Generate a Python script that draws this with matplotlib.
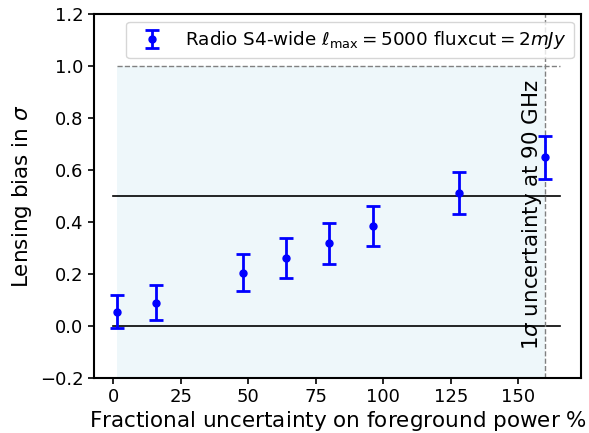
import matplotlib
matplotlib.use("Agg")
import matplotlib.pyplot as plt
import numpy as np

# fractional uncertainty on foreground power (%) and the lensing bias
frac_unc = [1.5, 16, 48, 64, 80, 96, 128, 160]
bias = [0.055, 0.089, 0.205, 0.262, 0.319, 0.383, 0.511, 0.649]
bias_err = [0.065, 0.067, 0.07, 0.076, 0.079, 0.077, 0.08, 0.084]

sigma_90 = 160  # 1 sigma uncertainty at 90 GHz

fig = plt.figure(figsize=(5.89, 4.33), dpi=100)
ax = fig.add_axes([0.1596, 0.1277, 0.827, 0.839])

ax.fill_between([frac_unc[0], sigma_90], -0.2, 1.0, color="lightblue", alpha=0.2, lw=0)
ax.plot([0, 165.5], [0, 0], color="k", lw=1.2)
ax.plot([0, 165.5], [0.5, 0.5], color="k", lw=1.2)
ax.plot([frac_unc[0], 165.5], [1.0, 1.0], color="gray", ls="--", lw=1)
ax.axvline(sigma_90, color="gray", ls="--", lw=1)

ax.errorbar(frac_unc, bias, yerr=bias_err, fmt="o", color="b", ms=5,
            capsize=5, elinewidth=2, capthick=2,
            label=r"Radio S4-wide $\ell_{\rm max}=5000$ fluxcut$=2mJy$")

ax.text(155, 0.43, r"1$\sigma$ uncertainty at 90 GHz", rotation=90,
        ha="center", va="center", fontsize=15.4)

ax.set_xlim(-7.1, 173.2)
ax.set_ylim(-0.2, 1.2)
ax.set_xticks([0, 25, 50, 75, 100, 125, 150])
ax.set_yticks(np.arange(-0.2, 1.21, 0.2))
ax.tick_params(labelsize=13, width=1.2, length=4)
for s in ax.spines.values():
    s.set_linewidth(1.5)

ax.set_xlabel(r"Fractional uncertainty on foreground power $\%$", fontsize=15.5, labelpad=2)
ax.set_ylabel(r"Lensing bias in $\sigma$", fontsize=15.5)
ax.legend(loc="upper right", fontsize=13.2, borderaxespad=0.4)

fig.savefig("out.png", dpi=100)
